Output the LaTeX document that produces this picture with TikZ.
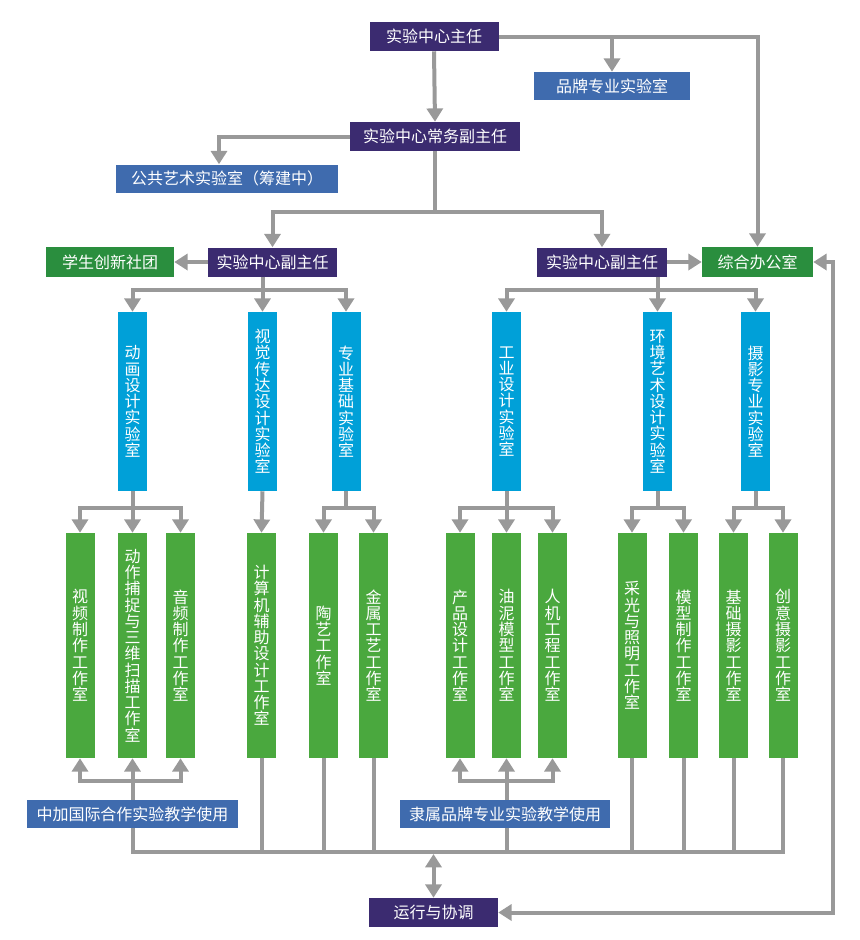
\documentclass[tikz,border=0pt]{standalone}
\usepackage{fontspec}
\newfontfamily\cjk{Noto Sans CJK SC}
\usetikzlibrary{arrows.meta}

\definecolor{headpurple}{RGB}{59,43,112}
\definecolor{steelblue}{RGB}{63,107,174}
\definecolor{labcyan}{RGB}{0,160,216}
\definecolor{shopgreen}{RGB}{74,168,62}
\definecolor{deepgreen}{RGB}{42,142,62}
\definecolor{linkgray}{RGB}{153,153,153}

\tikzset{
  basebox/.style={inner sep=0pt, text=white, align=center, font=\cjk\fontsize{12}{12.2}\selectfont},
  headbox/.style={basebox, fill=headpurple, minimum width=#1*0.75pt, minimum height=29*0.75pt},
  bluebox/.style={basebox, fill=steelblue, minimum width=#1*0.75pt, minimum height=28*0.75pt},
  greenbox/.style={basebox, fill=deepgreen, minimum width=#1*0.75pt, minimum height=30*0.75pt},
  labbox/.style={basebox, fill=labcyan, minimum width=29*0.75pt, minimum height=179*0.75pt},
  shopbox/.style={basebox, fill=shopgreen, minimum width=29*0.75pt, minimum height=225*0.75pt},
  link/.style={draw=linkgray, line width=3pt},
  arr/.style={link, -{Triangle[length=10pt,width=12pt]}},
  both/.style={link, {Triangle[length=10pt,width=12pt]}-{Triangle[length=10pt,width=12pt]}}
}

\begin{document}
\begin{tikzpicture}[x=0.75pt,y=0.75pt,yscale=-1,xscale=1]
    \useasboundingbox (0,0) rectangle (860,940);

    %Heads
    \node[headbox=129] (dir) at (434,36.5) {实验中心主任};
    \node[bluebox=156] (brand) at (612,86) {品牌专业实验室};
    \node[headbox=170] (exec) at (435,136.5) {实验中心常务副主任};
    \node[bluebox=222] (public) at (227,178.5) {公共艺术实验室（筹建中）};
    \node[headbox=129] (vpl) at (272.5,262) {实验中心副主任};
    \node[greenbox=128] (club) at (110,262) {学生创新社团};
    \node[headbox=130] (vpr) at (602,262) {实验中心副主任};
    \node[greenbox=111] (office) at (757.5,262) {综合办公室};

    %Labs
    \node[labbox] (anim) at (132.5,401.5) {动\\画\\设\\计\\实\\验\\室};
    \node[labbox] (vis) at (262.5,401.5) {视\\觉\\传\\达\\设\\计\\实\\验\\室};
    \node[labbox] (base) at (346,401.5) {专\\业\\基\\础\\实\\验\\室};
    \node[labbox] (indus) at (506.5,401.5) {工\\业\\设\\计\\实\\验\\室};
    \node[labbox] (env) at (657.5,401.5) {环\\境\\艺\\术\\设\\计\\实\\验\\室};
    \node[labbox] (photo) at (755.5,401.5) {摄\\影\\专\\业\\实\\验\\室};

    %Workshops
    \node[shopbox] (video) at (80,645.5) {视\\频\\制\\作\\工\\作\\室};
    \node[shopbox] (capture) at (132.5,645.5) {动\\作\\捕\\捉\\与\\三\\维\\扫\\描\\工\\作\\室};
    \node[shopbox] (audio) at (180.5,645.5) {音\\频\\制\\作\\工\\作\\室};
    \node[shopbox] (cad) at (261.5,645.5) {计\\算\\机\\辅\\助\\设\\计\\工\\作\\室};
    \node[shopbox] (ceramic) at (323.5,645.5) {陶\\艺\\工\\作\\室};
    \node[shopbox] (metal) at (373.5,645.5) {金\\属\\工\\艺\\工\\作\\室};
    \node[shopbox] (product) at (460,645.5) {产\\品\\设\\计\\工\\作\\室};
    \node[shopbox] (clay) at (506.5,645.5) {油\\泥\\模\\型\\工\\作\\室};
    \node[shopbox] (ergo) at (552.5,645.5) {人\\机\\工\\程\\工\\作\\室};
    \node[shopbox] (light) at (632,645.5) {采\\光\\与\\照\\明\\工\\作\\室};
    \node[shopbox] (model) at (683.5,645.5) {模\\型\\制\\作\\工\\作\\室};
    \node[shopbox] (basicph) at (733.5,645.5) {基\\础\\摄\\影\\工\\作\\室};
    \node[shopbox] (creative) at (783,645.5) {创\\意\\摄\\影\\工\\作\\室};

    %Bottom
    \node[bluebox=211] (intl) at (132.5,814) {中加国际合作实验教学使用};
    \node[bluebox=210] (brandu) at (505,814) {隶属品牌专业实验教学使用};
    \node[headbox=129] (run) at (433.5,912.5) {运行与协调};
    \coordinate (bus) at (433.5,852);
    \coordinate (loop) at (833,262);

    %Top links
    \draw[arr] (dir.south) -- (exec.north);
    \draw[arr] (dir.east) -| (brand.north);
    \draw[arr] (dir.east) -| (office.north);
    \draw[arr] (exec.west) -| ([xshift=-6pt]public.north);
    \draw[arr] (exec.south) -- ++(0,61) -| (vpl.north);
    \draw[arr] (exec.south) -- ++(0,61) -| (vpr.north);
    \draw[arr] (vpl.west) -- (club.east);
    \draw[arr] (vpr.east) -- (office.west);

    %Vice directors to labs
    \draw[arr] (vpl.south -| vis.north) -- (vis.north);
    \draw[arr] (vpl.south -| vis.north) -- ++(0,13) -| (anim.north);
    \draw[arr] (vpl.south -| vis.north) -- ++(0,13) -| (base.north);
    \draw[arr] (vpr.south -| env.north) -- (env.north);
    \draw[arr] (vpr.south -| env.north) -- ++(0,13) -| (indus.north);
    \draw[arr] (vpr.south -| env.north) -- ++(0,13) -| (photo.north);

    %Labs to workshops
    \draw[arr] (anim.south) -- (capture.north);
    \draw[arr] (anim.south) -- ++(0,17) -| (video.north);
    \draw[arr] (anim.south) -- ++(0,17) -| (audio.north);
    \draw[arr] (vis.south) -- (cad.north);
    \draw[arr] (base.south) -- ++(0,17) -| (ceramic.north);
    \draw[arr] (base.south) -- ++(0,17) -| (metal.north);
    \draw[arr] (indus.south) -- (clay.north);
    \draw[arr] (indus.south) -- ++(0,17) -| (product.north);
    \draw[arr] (indus.south) -- ++(0,17) -| (ergo.north);
    \draw[arr] (env.south) -- ++(0,17) -| (light.north);
    \draw[arr] (env.south) -- ++(0,17) -| (model.north);
    \draw[arr] (photo.south) -- ++(0,17) -| (basicph.north);
    \draw[arr] (photo.south) -- ++(0,17) -| (creative.north);

    %Teaching use
    \draw[arr] (intl.north -| capture.south) -- (capture.south);
    \draw[arr] (intl.north -| capture.south) -- ++(0,-19) -| (video.south);
    \draw[arr] (intl.north -| capture.south) -- ++(0,-19) -| (audio.south);
    \draw[arr] (brandu.north -| clay.south) -- (clay.south);
    \draw[arr] (brandu.north -| clay.south) -- ++(0,-19) -| (product.south);
    \draw[arr] (brandu.north -| clay.south) -- ++(0,-19) -| (ergo.south);

    %Bus to operation
    \draw[link] (intl.south -| capture.south) |- (bus);
    \draw[link] (brandu.south -| clay.south) |- (bus);
    \foreach \n in {cad,ceramic,metal,light,model,basicph,creative}
        \draw[link] (\n.south) |- (bus);
    \draw[both, shorten <=1.5pt] (bus) -- (run.north);
    \draw[both] (office.east) -- (loop) |- (run.east);

\end{tikzpicture}
\end{document}
